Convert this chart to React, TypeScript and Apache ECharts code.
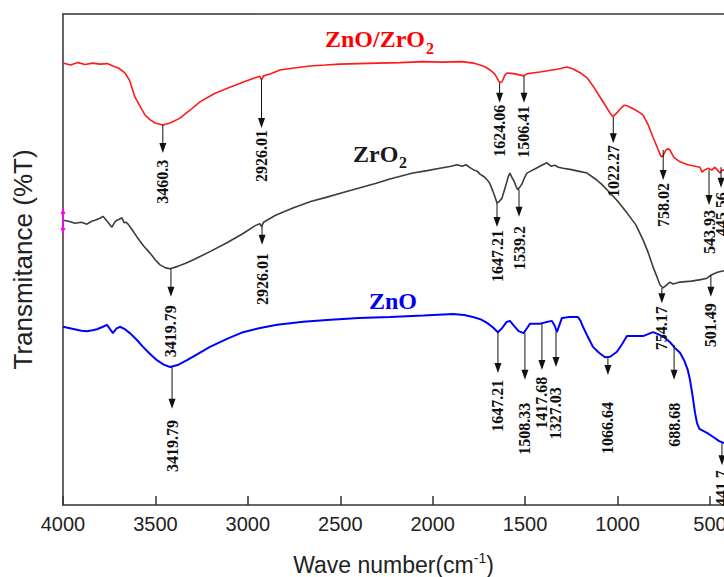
import React, { useEffect, useRef } from "react";
import * as echarts from "echarts";

// x-axis tick values (wavenumber, cm-1)
const xTicks = [4000, 3500, 3000, 2500, 2000, 1500, 1000, 500];

// Spectra: [wavenumber, transmittance (arbitrary units)]
const znoZro2 = [
  [4000, 90.0], [3960, 89.6], [3920, 90.1], [3880, 89.7], [3840, 90.0], [3800, 89.8], [3760, 89.9], [3730, 89.4],
  [3700, 89.0], [3665, 88.0], [3640, 86.5], [3611, 83.1], [3580, 81.0], [3556, 79.4], [3530, 78.5], [3502, 77.8],
  [3460, 77.4], [3420, 77.8], [3367, 78.8], [3310, 80.5], [3259, 82.1], [3180, 83.8], [3097, 85.1], [3020, 86.2],
  [2961, 87.0], [2935, 87.3], [2926, 86.6], [2915, 87.4], [2880, 87.8], [2826, 88.6], [2750, 89.0], [2664, 89.4],
  [2580, 89.6], [2502, 89.8], [2400, 89.9], [2300, 90.0], [2177, 90.1], [2050, 90.3], [1950, 90.2], [1842, 90.3],
  [1780, 90.0], [1744, 89.6], [1715, 89.2], [1690, 88.6], [1665, 87.8], [1652, 87.0], [1638, 86.0], [1625, 86.2],
  [1610, 87.5], [1598, 88.0], [1575, 87.9], [1555, 87.8], [1530, 87.6], [1507, 87.4], [1490, 87.8], [1460, 88.0],
  [1420, 88.2], [1370, 88.5], [1320, 88.8], [1274, 89.2], [1240, 88.8], [1200, 88.0], [1165, 87.0], [1130, 85.2],
  [1095, 83.1], [1060, 81.0], [1040, 79.8], [1025, 79.1], [1005, 79.8], [987, 80.6], [965, 81.4], [949, 81.3],
  [910, 80.6], [880, 79.9], [862, 79.4], [835, 77.5], [808, 74.9], [785, 72.8], [765, 71.0], [755, 71.0],
  [740, 72.2], [728, 72.6], [717, 72.3], [695, 70.8], [662, 69.9], [620, 69.3], [580, 69.0], [554, 68.8],
  [543, 67.8], [530, 68.2], [510, 68.6], [490, 68.2], [473, 68.8], [455, 68.0], [446, 67.6], [435, 68.2], [424, 68.2],
];

const zro2 = [
  [4000, 58.0], [3970, 57.8], [3935, 57.4], [3900, 57.6], [3870, 57.2], [3845, 57.8], [3827, 58.0], [3800, 58.4],
  [3784, 58.8], [3770, 58.2], [3757, 57.6], [3745, 57.0], [3735, 56.6], [3720, 57.6], [3708, 58.0], [3695, 58.2],
  [3681, 58.5], [3670, 57.5], [3659, 57.6], [3648, 57.2], [3625, 56.0], [3600, 54.6], [3565, 52.8], [3529, 51.3],
  [3500, 49.9], [3475, 48.9], [3445, 48.3], [3421, 48.1], [3380, 48.6], [3340, 49.2], [3297, 49.9], [3200, 51.7],
  [3113, 53.4], [3030, 55.2], [2960, 56.9], [2935, 57.3], [2926, 56.7], [2915, 57.6], [2850, 59.0], [2756, 60.5],
  [2660, 61.8], [2572, 62.7], [2480, 63.7], [2393, 64.6], [2310, 65.5], [2231, 66.4], [2170, 67.0], [2107, 67.6],
  [2030, 68.1], [1961, 68.6], [1900, 69.0], [1869, 69.3], [1840, 69.0], [1820, 69.3], [1798, 68.7], [1780, 68.3],
  [1760, 68.0], [1744, 67.4], [1720, 66.8], [1700, 66.0], [1690, 65.4], [1670, 63.5], [1652, 61.5], [1640, 61.8],
  [1625, 62.5], [1605, 65.0], [1590, 67.0], [1582, 67.6], [1570, 66.6], [1560, 66.0], [1548, 64.8], [1539, 64.2],
  [1528, 64.8], [1517, 65.4], [1505, 66.5], [1490, 67.6], [1470, 68.0], [1440, 68.6], [1410, 69.2], [1382, 69.7],
  [1360, 69.0], [1340, 69.2], [1320, 68.8], [1295, 68.6], [1250, 68.3], [1200, 67.9], [1165, 67.6], [1120, 66.4],
  [1085, 65.3], [1057, 64.2], [1000, 61.9], [949, 59.5], [900, 57.0], [862, 54.0], [835, 51.5], [808, 48.5],
  [785, 46.3], [770, 44.8], [754, 44.2], [735, 44.8], [717, 45.4], [700, 45.0], [680, 45.2], [662, 45.4],
  [600, 45.6], [550, 45.9], [516, 46.2], [495, 46.8], [484, 47.0], [460, 47.4], [424, 47.7],
];

const zno = [
  [4000, 36.3], [3950, 35.9], [3900, 35.5], [3870, 35.4], [3840, 35.6], [3816, 35.8], [3790, 36.2], [3762, 36.7],
  [3745, 35.8], [3730, 35.0], [3712, 35.9], [3692, 36.3], [3665, 35.8], [3638, 35.0], [3600, 33.6], [3567, 32.2],
  [3530, 30.8], [3492, 29.5], [3455, 28.6], [3421, 28.1], [3380, 28.5], [3329, 29.5], [3270, 30.8], [3205, 32.2],
  [3110, 33.9], [3026, 35.2], [2940, 36.0], [2842, 36.7], [2700, 37.3], [2572, 37.7], [2400, 38.1], [2231, 38.3],
  [2050, 38.6], [1890, 38.9], [1830, 38.7], [1782, 38.3], [1740, 37.8], [1706, 37.1], [1675, 36.2], [1647, 35.2],
  [1625, 36.0], [1600, 37.3], [1582, 37.5], [1560, 36.5], [1535, 35.4], [1508, 35.0], [1490, 36.0], [1474, 36.9],
  [1445, 36.9], [1420, 36.9], [1390, 37.2], [1355, 37.5], [1340, 36.5], [1328, 35.2], [1315, 36.6], [1301, 38.1],
  [1260, 38.3], [1214, 38.3], [1200, 37.5], [1187, 36.3], [1160, 34.2], [1133, 32.2], [1100, 31.0], [1068, 30.1],
  [1040, 30.2], [1003, 31.2], [975, 32.8], [949, 34.4], [900, 34.4], [862, 34.4], [835, 34.8], [808, 35.2],
  [780, 34.8], [750, 34.2], [717, 33.2], [690, 32.0], [662, 31.0], [640, 29.5], [620, 27.5], [608, 25.5],
  [595, 22.5], [580, 18.6], [570, 16.7], [557, 15.5], [516, 14.7], [480, 13.8], [450, 13.0], [424, 12.6],
];

// Peak annotations: [position, arrow start, arrow tip, label top]
const peaksZnoZro2 = [
  [3460, 77.4, 71.7, 70.3], [2926, 86.6, 76.8, 76.4], [1638, 85.9, 81.9, 81.5], [1506, 87.4, 81.9, 81.3],
  [1023, 79.0, 73.7, 73.3], [753, 72.3, 66.2, 65.6], [505, 68.2, 61.1, 60.1], [440, 68.8, 64.6, 63.7],
];
const labelsZnoZro2 = ["3460.3", "2926.01", "1624.06", "1506.41", "1022.27", "758.02", "543.93", "445.56"];

const peaksZro2 = [
  [3416, 48.1, 42.4, 40.7], [2923, 56.8, 53.0, 51.3], [1652, 61.5, 56.6, 56.0], [1533, 64.2, 58.7, 56.8],
  [760, 44.2, 41.1, 40.5], [495, 46.8, 42.4, 41.1],
];
const labelsZro2 = ["3419.79", "2926.01", "1647.21", "1539.2", "754.17", "501.49"];

const peaksZno = [
  [3410, 28.1, 19.6, 17.3], [1647, 35.2, 26.9, 25.5], [1501, 35.0, 25.5, 20.8], [1409, 36.9, 27.5, 26.1],
  [1333, 35.2, 28.1, 24.0], [1052, 30.1, 26.5, 21.0], [694, 32.6, 25.5, 20.8], [435, 12.6, 8.1, 7.1],
];
const labelsZno = ["3419.79", "1647.21", "1508.33", "1417.68", "1327.03", "1066.64", "688.68", "441.7"];

const AXIS_COLOR = "#333";

function annotationSeries(peaks: number[][], labels: string[]) {
  return {
    type: "custom",
    xAxisIndex: 0,
    yAxisIndex: 0,
    clip: false,
    z: 5,
    data: peaks,
    encode: { x: 0, y: 1 },
    renderItem: (params: any, api: any) => {
      const v = api.value(0);
      const p0 = api.coord([v, api.value(1)]);
      const p1 = api.coord([v, api.value(2)]);
      const p2 = api.coord([v, api.value(3)]);
      const text = labels[params.dataIndex];
      return {
        type: "group",
        children: [
          {
            type: "line",
            shape: { x1: p0[0], y1: p0[1], x2: p1[0], y2: p1[1] - 6 },
            style: { stroke: "#111", lineWidth: 1 },
          },
          {
            type: "polygon",
            shape: { points: [[p1[0] - 3.5, p1[1] - 10], [p1[0] + 3.5, p1[1] - 10], [p1[0], p1[1]]] },
            style: { fill: "#111" },
          },
          {
            type: "text",
            x: p2[0],
            y: p2[1],
            rotation: Math.PI / 2,
            style: {
              text,
              fill: "#111",
              fontSize: 16,
              fontWeight: "bold",
              fontFamily: "Liberation Serif",
              align: "right",
              verticalAlign: "middle",
            },
          },
        ],
      };
    },
  };
}

export default function App() {
  const ref = useRef<HTMLDivElement>(null);

  useEffect(() => {
    document.body.style.margin = "0";
    const chart = echarts.init(ref.current!, undefined, { renderer: "svg" });
    const nameFont = { fontFamily: "Liberation Serif", fontWeight: "bold" as const };
    const option: any = {
      animation: false,
      backgroundColor: "#ffffff",
      grid: { left: 63, right: 0, top: 14, bottom: 72, containLabel: false, outerBoundsMode: "none" },
      xAxis: [
        {
          type: "value",
          min: 424,
          max: 4000,
          inverse: true,
          position: "bottom",
          axisLine: { show: true, onZero: false, lineStyle: { color: AXIS_COLOR, width: 1.5 } },
          axisTick: { show: true, inside: true, length: 9, customValues: xTicks, lineStyle: { color: AXIS_COLOR, width: 1.5 } },
          axisLabel: {
            customValues: xTicks,
            formatter: (v: number) => String(v),
            fontSize: 20,
            fontFamily: "Liberation Sans",
            color: "#222",
            margin: 9,
          },
          splitLine: { show: false },
          name: "{a|Wave number(cm}{b|-1}{a|)}",
          nameLocation: "middle",
          nameGap: 46,
          nameTextStyle: {
            rich: {
              a: { fontSize: 23, fontFamily: "Liberation Sans", color: "#222", lineHeight: 27 },
              b: { fontSize: 14, fontFamily: "Liberation Sans", color: "#222", lineHeight: 14, verticalAlign: "top" },
            },
          },
        },
        {
          type: "value",
          min: 424,
          max: 4000,
          inverse: true,
          position: "top",
          axisLine: { show: true, onZero: false, lineStyle: { color: AXIS_COLOR, width: 1.5 } },
          axisTick: { show: false },
          axisLabel: { show: false },
          splitLine: { show: false },
        },
      ],
      yAxis: {
        type: "value",
        min: 0,
        max: 100,
        axisLine: { show: true, onZero: false, lineStyle: { color: AXIS_COLOR, width: 1.5 } },
        axisTick: { show: false },
        axisLabel: { show: false },
        splitLine: { show: false },
        name: "Transmitance (%T)",
        nameLocation: "middle",
        nameGap: 27,
        nameTextStyle: { fontSize: 26, fontFamily: "Liberation Sans", color: "#222" },
      },
      graphic: [
        { type: "text", left: 325, top: 27, style: { text: "ZnO/ZrO", fill: "#ff0000", fontSize: 24, ...nameFont } },
        { type: "text", left: 426, top: 40, style: { text: "2", fill: "#ff0000", fontSize: 16, ...nameFont } },
        { type: "text", left: 353, top: 142, style: { text: "ZrO", fill: "#1a1a1a", fontSize: 24, ...nameFont } },
        { type: "text", left: 399, top: 154, style: { text: "2", fill: "#1a1a1a", fontSize: 16, ...nameFont } },
        { type: "text", left: 369, top: 289, style: { text: "ZnO", fill: "#0000ee", fontSize: 24, ...nameFont } },
        {
          type: "line",
          shape: { x1: 63, y1: 211, x2: 63, y2: 231 },
          style: { stroke: "#ff00ff", lineWidth: 1.5 },
          z: 10,
        },
        { type: "polygon", shape: { points: [[60.5, 214], [65.5, 214], [63, 208]] }, style: { fill: "#ff00ff" }, z: 10 },
        { type: "polygon", shape: { points: [[60.5, 228], [65.5, 228], [63, 234]] }, style: { fill: "#ff00ff" }, z: 10 },
      ],
      series: [
        { type: "line", name: "ZnO/ZrO2", data: znoZro2, showSymbol: false, symbol: "none", lineStyle: { color: "#ff1a1a", width: 1.6 }, z: 3 },
        { type: "line", name: "ZrO2", data: zro2, showSymbol: false, symbol: "none", lineStyle: { color: "#3c3c3c", width: 1.6 }, z: 3 },
        { type: "line", name: "ZnO", data: zno, showSymbol: false, symbol: "none", lineStyle: { color: "#0000ff", width: 2 }, z: 3 },
        annotationSeries(peaksZnoZro2, labelsZnoZro2),
        annotationSeries(peaksZro2, labelsZro2),
        annotationSeries(peaksZno, labelsZno),
      ],
    };
    chart.setOption(option);
    return () => chart.dispose();
  }, []);

  return <div ref={ref} style={{ width: 724, height: 577 }} />;
}
